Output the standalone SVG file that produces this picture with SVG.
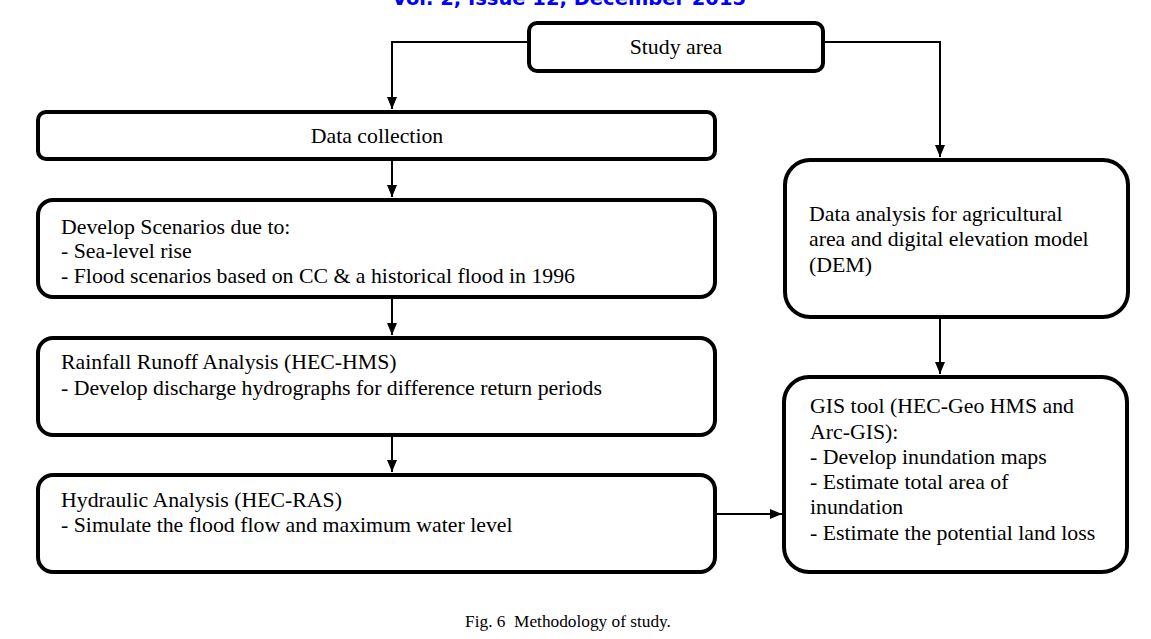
<svg xmlns="http://www.w3.org/2000/svg" width="1151" height="639" viewBox="0 0 1151 639">
<defs>
<style>
.box{fill:#fff;stroke:#000;stroke-width:4}
.t{font-family:Liberation Serif,Times New Roman,serif;font-size:21.8px;fill:#000}
.c{stroke:#000;stroke-width:2;fill:none}
</style>
<marker id="ah" viewBox="0 0 12 10" refX="12" refY="5" markerWidth="12" markerHeight="10" markerUnits="userSpaceOnUse" orient="auto">
<path d="M0,0 L12,5 L0,10 Z" fill="#000"/>
</marker>
</defs>
<rect width="1151" height="639" fill="#fff"/>
<text x="569" y="5" text-anchor="middle" font-family="DejaVu Sans, sans-serif" font-weight="bold" font-size="19.5" fill="#0000ff">Vol. 2, Issue 12, December 2015</text>
<g id="connectors">
<path class="c" d="M529,42 H392 V109" marker-end="url(#ah)"/>
<path class="c" d="M823,42 H940 V157" marker-end="url(#ah)"/>
<path class="c" d="M392,160 V197" marker-end="url(#ah)"/>
<path class="c" d="M392,298 V335" marker-end="url(#ah)"/>
<path class="c" d="M392,436 V472" marker-end="url(#ah)"/>
<path class="c" d="M940,318 V374" marker-end="url(#ah)"/>
<path class="c" d="M716,514 H782" marker-end="url(#ah)"/>
</g>
<g font-family="Liberation Serif, Times New Roman, serif" font-size="21.8" fill="#000">
<g id="study-area">
<rect class="box" x="529" y="23" width="294" height="48" rx="8"/>
<text class="t" x="676" y="54" text-anchor="middle">Study area</text>
</g>
<g id="data-collection">
<rect class="box" x="38" y="112" width="677" height="47" rx="8"/>
<text class="t" x="377" y="143" text-anchor="middle">Data collection</text>
</g>
<g id="develop-scenarios">
<rect class="box" x="38" y="200" width="677" height="97" rx="15"/>
<text class="t" x="61" y="234">Develop Scenarios due to:</text>
<text class="t" x="61" y="258">- Sea-level rise</text>
<text class="t" x="61" y="283">- Flood scenarios based on CC &amp; a historical flood in 1996</text>
</g>
<g id="rainfall-runoff">
<rect class="box" x="38" y="338" width="677" height="97" rx="15"/>
<text class="t" x="61" y="369">Rainfall Runoff Analysis (HEC-HMS)</text>
<text class="t" x="61" y="395">- Develop discharge hydrographs for difference return periods</text>
</g>
<g id="hydraulic-analysis">
<rect class="box" x="38" y="475" width="677" height="97" rx="15"/>
<text class="t" x="61" y="507">Hydraulic Analysis (HEC-RAS)</text>
<text class="t" x="61" y="532">- Simulate the flood flow and maximum water level</text>
</g>
<g id="dem-analysis">
<rect class="box" x="785" y="160" width="343" height="157" rx="25"/>
<text class="t" x="809" y="221">Data analysis for agricultural</text>
<text class="t" x="809" y="246">area and digital elevation model</text>
<text class="t" x="809" y="272">(DEM)</text>
</g>
<g id="gis-tool">
<rect class="box" x="784" y="377" width="343" height="195" rx="25"/>
<text class="t" x="810" y="413">GIS tool (HEC-Geo HMS and</text>
<text class="t" x="810" y="439">Arc-GIS):</text>
<text class="t" x="810" y="464">- Develop inundation maps</text>
<text class="t" x="810" y="489">- Estimate total area of</text>
<text class="t" x="810" y="514">inundation</text>
<text class="t" x="810" y="540">- Estimate the potential land loss</text>
</g>
</g>
<text x="568" y="627" text-anchor="middle" font-family="Liberation Serif, serif" font-size="17.3" xml:space="preserve" style="white-space:pre">Fig. 6  Methodology of study.</text>
</svg>
